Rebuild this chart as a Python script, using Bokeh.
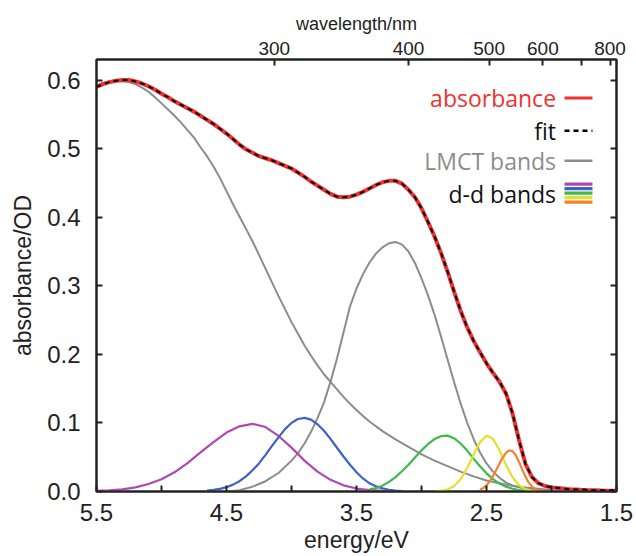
from bokeh.plotting import figure
from bokeh.models import Range1d, LinearAxis, FixedTicker, NumeralTickFormatter, CustomJSTickFormatter
from bokeh.core.properties import value
from bokeh.embed import file_html
from bokeh.resources import INLINE

# ---------------- data ----------------
energy_total = [5.50, 5.45, 5.40, 5.35, 5.30, 5.25, 5.20, 5.15, 5.10, 5.05,
                5.00, 4.95, 4.90, 4.85, 4.80, 4.75, 4.70, 4.65, 4.60, 4.55,
                4.50, 4.45, 4.40, 4.35, 4.30, 4.25, 4.20, 4.15, 4.10, 4.05,
                4.00, 3.95, 3.90, 3.85, 3.80, 3.75, 3.70, 3.65, 3.60, 3.55,
                3.50, 3.45, 3.40, 3.35, 3.30, 3.25, 3.20, 3.15, 3.10, 3.05,
                3.00, 2.95, 2.90, 2.85, 2.80, 2.75, 2.70, 2.65, 2.60, 2.55,
                2.50, 2.45, 2.40, 2.35, 2.30, 2.25, 2.20, 2.15, 2.10, 2.05,
                2.00, 1.95, 1.90, 1.85, 1.80, 1.75, 1.70, 1.65, 1.60, 1.55, 1.50]
absorbance_od = [0.590, 0.594, 0.597, 0.599, 0.600, 0.600, 0.598, 0.595, 0.591, 0.586,
                 0.580, 0.575, 0.569, 0.564, 0.559, 0.554, 0.548, 0.542, 0.536, 0.529,
                 0.522, 0.514, 0.506, 0.499, 0.494, 0.489, 0.486, 0.483, 0.479, 0.475,
                 0.471, 0.465, 0.459, 0.452, 0.446, 0.440, 0.434, 0.430, 0.429, 0.430,
                 0.433, 0.437, 0.442, 0.447, 0.451, 0.453, 0.453, 0.449, 0.440, 0.429,
                 0.413, 0.393, 0.372, 0.348, 0.321, 0.292, 0.264, 0.240, 0.220, 0.203,
                 0.187, 0.173, 0.160, 0.143, 0.114, 0.075, 0.040, 0.021, 0.012, 0.008,
                 0.006, 0.005, 0.004, 0.003, 0.003, 0.002, 0.002, 0.002, 0.001, 0.001, 0.001]
fit_od = [0.590, 0.594, 0.597, 0.599, 0.600, 0.600, 0.598, 0.595, 0.591, 0.586,
          0.580, 0.575, 0.569, 0.564, 0.559, 0.554, 0.548, 0.542, 0.536, 0.529,
          0.522, 0.514, 0.506, 0.499, 0.494, 0.489, 0.486, 0.483, 0.479, 0.475,
          0.471, 0.465, 0.459, 0.452, 0.446, 0.440, 0.434, 0.430, 0.429, 0.430,
          0.433, 0.437, 0.442, 0.447, 0.451, 0.453, 0.453, 0.449, 0.440, 0.429,
          0.413, 0.393, 0.372, 0.348, 0.321, 0.292, 0.264, 0.240, 0.220, 0.203,
          0.187, 0.173, 0.160, 0.143, 0.114, 0.075, 0.040, 0.021, 0.012, 0.008,
          0.006, 0.005, 0.004, 0.003, 0.003, 0.003, 0.002, 0.002, 0.002, 0.002, 0.002]

lmct1_energy = [5.50, 5.45, 5.40, 5.35, 5.30, 5.25, 5.20, 5.15, 5.10, 5.05,
                5.00, 4.95, 4.90, 4.85, 4.80, 4.75, 4.70, 4.65, 4.60, 4.55,
                4.50, 4.45, 4.40, 4.35, 4.30, 4.25, 4.20, 4.15, 4.10, 4.05,
                4.00, 3.95, 3.90, 3.85, 3.80, 3.75, 3.70, 3.65, 3.60, 3.55,
                3.50, 3.45, 3.40, 3.30, 3.20, 3.10, 3.00, 2.90, 2.80, 2.70,
                2.60, 2.50, 2.40, 2.30, 2.20, 2.10, 2.00, 1.90, 1.80, 1.70, 1.60, 1.50]
lmct1_od = [0.592, 0.596, 0.598, 0.599, 0.598, 0.597, 0.594, 0.589, 0.583, 0.575,
            0.566, 0.557, 0.548, 0.538, 0.527, 0.516, 0.502, 0.489, 0.474, 0.457,
            0.438, 0.419, 0.401, 0.383, 0.365, 0.345, 0.325, 0.305, 0.285, 0.266,
            0.247, 0.230, 0.213, 0.198, 0.184, 0.171, 0.160, 0.149, 0.138, 0.128,
            0.119, 0.110, 0.102, 0.088, 0.076, 0.065, 0.054, 0.045, 0.037, 0.029,
            0.022, 0.016, 0.012, 0.008, 0.006, 0.004, 0.002, 0.001, 0.001, 0.000, 0.000, 0.000]

lmct2_energy = [4.50, 4.40, 4.30, 4.20, 4.10, 4.00, 3.95, 3.90, 3.85, 3.80,
                3.75, 3.70, 3.65, 3.60, 3.55, 3.50, 3.45, 3.40, 3.35, 3.30,
                3.25, 3.20, 3.15, 3.10, 3.05, 3.00, 2.95, 2.90, 2.85, 2.80,
                2.75, 2.70, 2.65, 2.60, 2.55, 2.50, 2.45, 2.40, 2.35, 2.30,
                2.25, 2.20, 2.10, 2.00]
lmct2_od = [0.000, 0.002, 0.007, 0.015, 0.027, 0.045, 0.056, 0.070, 0.087, 0.107,
            0.130, 0.160, 0.194, 0.232, 0.270, 0.296, 0.317, 0.334, 0.347, 0.356,
            0.362, 0.364, 0.360, 0.350, 0.333, 0.311, 0.286, 0.258, 0.226, 0.193,
            0.160, 0.129, 0.101, 0.077, 0.057, 0.041, 0.029, 0.020, 0.013, 0.009,
            0.006, 0.004, 0.001, 0.000]

purple_energy = [5.50, 5.40, 5.30, 5.20, 5.10, 5.00, 4.90, 4.80, 4.70, 4.60,
                 4.50, 4.40, 4.30, 4.20, 4.10, 4.00, 3.90, 3.80, 3.70, 3.60,
                 3.50, 3.40, 3.30, 3.20]
purple_od = [0.001, 0.0015, 0.003, 0.006, 0.011, 0.018, 0.028, 0.0415, 0.057, 0.072,
             0.086, 0.095, 0.0987, 0.094, 0.081, 0.064, 0.045, 0.029, 0.017, 0.009,
             0.0043, 0.0019, 0.0008, 0.0002]

blue_energy = [4.65, 4.60, 4.55, 4.50, 4.45, 4.40, 4.35, 4.30, 4.25, 4.20,
               4.15, 4.10, 4.05, 4.00, 3.95, 3.90, 3.85, 3.80, 3.75, 3.70,
               3.65, 3.60, 3.55, 3.50, 3.45, 3.40, 3.35, 3.30, 3.25, 3.20, 3.15]
blue_od = [0.0013, 0.0023, 0.0039, 0.0063, 0.010, 0.015, 0.022, 0.031, 0.041, 0.0535,
           0.0665, 0.079, 0.091, 0.100, 0.1057, 0.1074, 0.1048, 0.098, 0.0886, 0.0767,
           0.0638, 0.051, 0.039, 0.028, 0.019, 0.012, 0.0075, 0.0045, 0.0025, 0.0013, 0.0006]

green_energy = [3.40, 3.35, 3.30, 3.25, 3.20, 3.15, 3.10, 3.05, 3.00, 2.95,
                2.90, 2.85, 2.80, 2.75, 2.70, 2.65, 2.60, 2.55, 2.50, 2.45,
                2.40, 2.35, 2.30, 2.25, 2.20, 2.15]
green_od = [0.0030, 0.0050, 0.0085, 0.014, 0.021, 0.0296, 0.039, 0.0495, 0.060, 0.069,
            0.0765, 0.0807, 0.0815, 0.0778, 0.070, 0.060, 0.048, 0.0368, 0.0265, 0.018,
            0.0116, 0.0070, 0.0040, 0.0022, 0.0011, 0.0005]

yellow_energy = [2.90, 2.85, 2.80, 2.75, 2.70, 2.65, 2.60, 2.55, 2.50, 2.45,
                 2.40, 2.35, 2.30, 2.25, 2.20, 2.15, 2.10]
yellow_od = [0.0002, 0.0009, 0.0029, 0.0078, 0.0177, 0.0336, 0.0536, 0.072, 0.0813, 0.0768,
             0.0601, 0.0389, 0.0208, 0.0092, 0.0034, 0.0010, 0.0003]

orange_energy = [2.55, 2.525, 2.50, 2.475, 2.45, 2.425, 2.40, 2.375, 2.35, 2.325,
                 2.30, 2.275, 2.25, 2.225, 2.20, 2.175, 2.15, 2.125, 2.10, 2.075, 2.05]
orange_od = [0.0025, 0.0050, 0.0090, 0.0150, 0.0225, 0.0315, 0.0410, 0.0496, 0.0562, 0.0598,
             0.0590, 0.0530, 0.0431, 0.0319, 0.0214, 0.0130, 0.0072, 0.0036, 0.0016, 0.0007, 0.0003]

energy_ticks = [5.5, 4.5, 3.5, 2.5, 1.5]
energy_minor_ticks = [5.0, 4.0, 3.0, 2.0]
od_ticks = [0.0, 0.1, 0.2, 0.3, 0.4, 0.5, 0.6]
wavelength_ticks_nm = [300, 400, 500, 600, 800]
wavelength_minor_nm = [700]

legend_labels = ["absorbance", "fit", "LMCT bands", "d-d bands"]

# ---------------- styling ----------------
RED = "#f2302f"
GRAY = "#8c8c8c"
PURPLE = "#b048b0"
BLUE = "#3d62c6"
GREEN = "#3dba4a"
YELLOW = "#e3e12c"
ORANGE = "#f7812c"
INK = "#222222"
FONT = "Liberation Sans"
HC = 1239.84  # eV*nm

p = figure(width=636, height=556, output_backend="svg", toolbar_location=None,
           x_range=Range1d(5.5, 1.5), y_range=Range1d(0.0, 0.63),
           min_border_left=96, min_border_right=20, min_border_top=59, min_border_bottom=65,
           background_fill_color="white", border_fill_color="white")
p.xgrid.visible = False
p.ygrid.visible = False
p.outline_line_color = INK
p.outline_line_width = 2

def style_axis(ax, label_size="24px"):
    ax.axis_line_color = INK
    ax.axis_line_width = 2
    ax.major_tick_in = 6
    ax.major_tick_out = 0
    ax.minor_tick_in = 6
    ax.minor_tick_out = 0
    ax.major_tick_line_color = INK
    ax.major_tick_line_width = 2
    ax.minor_tick_line_color = INK
    ax.minor_tick_line_width = 2
    ax.major_label_text_font = FONT
    ax.major_label_text_font_size = label_size
    ax.major_label_text_color = INK
    ax.axis_label_text_font = FONT
    ax.axis_label_text_font_style = "normal"
    ax.axis_label_text_color = INK

xa = p.xaxis[0]
style_axis(xa)
xa.ticker = FixedTicker(ticks=energy_ticks, minor_ticks=energy_minor_ticks)
xa.formatter = NumeralTickFormatter(format="0.0")
xa.axis_label = "energy/eV"
xa.axis_label_text_font_size = "23px"
xa.major_label_standoff = 12
xa.axis_label_standoff = 3

ya = p.yaxis[0]
style_axis(ya)
ya.ticker = FixedTicker(ticks=od_ticks, minor_ticks=[])
ya.formatter = NumeralTickFormatter(format="0.0")
ya.axis_label = "absorbance/OD"
ya.axis_label_text_font_size = "23px"
ya.major_label_standoff = 16
ya.axis_label_standoff = 8

top = LinearAxis(ticker=FixedTicker(ticks=[HC / w for w in wavelength_ticks_nm],
                                    minor_ticks=[HC / w for w in wavelength_minor_nm]),
                 formatter=CustomJSTickFormatter(code="return Math.round(1239.84 / tick).toString();"),
                 axis_label="wavelength/nm")
style_axis(top, "19px")
top.axis_label_text_font_size = "18px"
top.major_label_standoff = 5
top.axis_label_standoff = 5
p.add_layout(top, "above")

right = LinearAxis(ticker=FixedTicker(ticks=od_ticks, minor_ticks=[]))
style_axis(right, "1px")
right.major_label_text_color = None
right.major_label_standoff = 0
p.add_layout(right, "right")

# ---------------- curves ----------------
p.line(lmct1_energy, lmct1_od, line_color=GRAY, line_width=2)
p.line(lmct2_energy, lmct2_od, line_color=GRAY, line_width=2)
p.line(purple_energy, purple_od, line_color=PURPLE, line_width=2.2)
p.line(blue_energy, blue_od, line_color=BLUE, line_width=2.2)
p.line(green_energy, green_od, line_color=GREEN, line_width=2.2)
p.line(yellow_energy, yellow_od, line_color=YELLOW, line_width=2.2)
p.line(orange_energy, orange_od, line_color=ORANGE, line_width=2.2)
p.line(energy_total, absorbance_od, line_color=RED, line_width=4, line_join="round")
p.line(energy_total, fit_od, line_color="black", line_width=2, line_dash="5 4")

# ---------------- legend (text on the right) ----------------
p.text(x=[1.965] * 4, y=[0.574, 0.526, 0.4825, 0.434], text=legend_labels,
       text_color=[RED, "#111111", GRAY, "#111111"],
       text_font=value("Open Sans"), text_font_size=value("23px"),
       text_align="right", text_baseline="middle")
p.line([1.90, 1.685], [0.574, 0.574], line_color=RED, line_width=3)
p.line([1.90, 1.685], [0.526, 0.526], line_color="black", line_width=2.5, line_dash="5 4")
p.line([1.90, 1.685], [0.4825, 0.4825], line_color=GRAY, line_width=2.5)
sw_y = [0.4483, 0.4417, 0.4352, 0.4286, 0.4220]
p.segment(x0=[1.90] * 5, y0=sw_y, x1=[1.685] * 5, y1=sw_y,
          line_color=[PURPLE, BLUE, GREEN, YELLOW, ORANGE], line_width=3.2)

open("out.html", "w").write(file_html(p, INLINE))
